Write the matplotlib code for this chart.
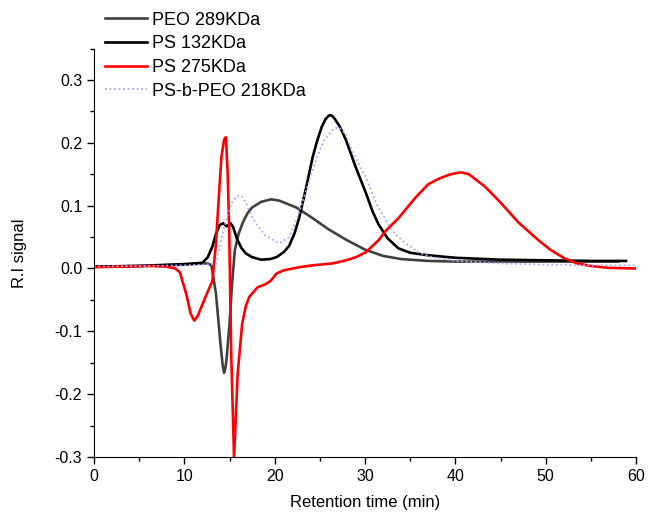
import matplotlib
matplotlib.use('Agg')
import matplotlib.pyplot as plt
from matplotlib.ticker import MultipleLocator

plt.rcParams['font.family'] = ['Liberation Sans', 'DejaVu Sans']

# PEO 289KDa
peo_t = [0, 5, 10, 12, 12.6, 13.0, 13.5, 14.0, 14.25, 14.4, 14.55, 14.7, 15.0, 15.3, 15.6, 16.0, 16.5,
         17.0, 17.5, 18.5, 19.6, 20.5, 22.4, 24, 26, 28, 30, 32, 34, 37, 40, 45, 50, 55, 58]
peo_y = [0.003, 0.004, 0.006, 0.008, 0.008, 0.005, -0.04, -0.12, -0.155, -0.166, -0.158, -0.14,
         -0.088, -0.02, 0.03, 0.055, 0.074, 0.088, 0.097, 0.106, 0.110, 0.108, 0.097, 0.082, 0.062,
         0.045, 0.030, 0.020, 0.015, 0.012, 0.011, 0.011, 0.011, 0.011, 0.011]

# PS 132KDa
ps132_t = [0, 5, 10, 12, 12.6, 13.1, 13.5, 13.9, 14.3, 14.7, 15.1, 15.4, 15.8, 16.3, 16.8, 17.5, 18.5,
           19.5, 20.2, 21, 21.6, 22.2, 22.7, 23.5, 24.2, 24.7, 25.2, 25.6, 25.9, 26.1, 26.35, 26.6,
           27.2, 27.9, 29, 30.1, 30.8, 31.5, 32.5, 33.7, 35, 37, 40, 45, 50, 55, 58.9]
ps132_y = [0.003, 0.004, 0.007, 0.009, 0.018, 0.035, 0.055, 0.069, 0.072, 0.067, 0.072, 0.066, 0.048,
           0.033, 0.024, 0.018, 0.014, 0.015, 0.018, 0.026, 0.036, 0.056, 0.08, 0.13, 0.177, 0.203,
           0.225, 0.237, 0.242, 0.244, 0.243, 0.239, 0.226, 0.204, 0.16, 0.12, 0.092, 0.07, 0.048,
           0.032, 0.025, 0.021, 0.017, 0.014, 0.013, 0.012, 0.012]

# PS 275KDa
ps275_t = [0, 3, 6, 8, 9, 9.5, 10.2, 10.7, 11.1, 11.5, 12, 12.5, 13.1, 13.5, 13.8, 14.1, 14.4, 14.6,
           14.8, 14.95, 15.2, 15.5, 15.75, 15.9, 16.4, 16.8, 17.2, 18.1, 19.0, 19.6, 20.2, 21, 22.7,
           24.2, 26.4, 27.9, 29, 30.1, 31.5, 32.3, 33.7, 35.6, 37, 38.2, 39.5, 40.6, 41.5, 43.3, 45,
           47, 49.2, 50.5, 52.1, 53.5, 55, 57, 60]
ps275_y = [0.002, 0.003, 0.004, 0.003, 0.0, -0.006, -0.04, -0.072, -0.083, -0.075, -0.057, -0.04,
           -0.02, 0.04, 0.11, 0.177, 0.205, 0.209, 0.15, 0.07, -0.142, -0.3, -0.22, -0.168, -0.088,
           -0.06, -0.045, -0.03, -0.025, -0.019, -0.008, -0.003, 0.002, 0.005, 0.008, 0.013, 0.018,
           0.026, 0.045, 0.06, 0.08, 0.113, 0.134, 0.143, 0.150, 0.153, 0.150, 0.130, 0.105, 0.073,
           0.045, 0.03, 0.016, 0.008, 0.004, 0.001, 0.0]

# PS-b-PEO 218KDa
psb_t = [0, 10, 13.5, 13.9, 14.3, 14.8, 15.3, 15.8, 16.3, 16.8, 17.4, 18, 19, 20.5, 21.6, 22.5, 23.5,
         24.5, 25.5, 26.5, 27.1, 27.8, 28.8, 30.1, 31.2, 32.3, 33.3, 34.5, 36, 37.4, 40, 45, 50, 55, 60]
psb_y = [0.003, 0.005, 0.007, 0.03, 0.06, 0.085, 0.105, 0.115, 0.116, 0.105, 0.085, 0.07, 0.052,
         0.04, 0.05, 0.08, 0.125, 0.17, 0.205, 0.222, 0.225, 0.215, 0.18, 0.145, 0.105, 0.077, 0.055,
         0.04, 0.025, 0.018, 0.012, 0.008, 0.006, 0.005, 0.005]

fig = plt.figure(figsize=(6.48, 5.15), dpi=100)
ax = fig.add_axes([0.1451, 0.1126, 0.8364, 0.7932])

ax.plot(peo_t, peo_y, color='#404040', lw=1.9, label='PEO 289KDa')
ax.plot(ps132_t, ps132_y, color='black', lw=1.9, label='PS 132KDa')
ax.plot(ps275_t, ps275_y, color='#ff0000', lw=1.9, label='PS 275KDa')
ax.plot(psb_t, psb_y, color='#a8a8ff', lw=1.3, linestyle=(0, (1, 1.5)), label='PS-b-PEO 218KDa')

ax.set_xlim(0, 60)
ax.set_ylim(-0.3, 0.35)
ax.xaxis.set_major_locator(MultipleLocator(10))
ax.xaxis.set_minor_locator(MultipleLocator(5))
ax.yaxis.set_minor_locator(MultipleLocator(0.05))
ax.set_yticks([-0.3, -0.2, -0.1, 0.0, 0.1, 0.2, 0.3])
ax.set_yticklabels(['-0.3', '-0.2', '-0.1', '0.0', '0.1', '0.2', '0.3'])
ax.tick_params(which='major', direction='out', length=5, width=1, labelsize=11.5)
ax.tick_params(which='minor', direction='out', length=3, width=1)
ax.spines['top'].set_visible(False)
ax.spines['right'].set_visible(False)

ax.set_xlabel('Retention time (min)', fontsize=12, labelpad=8)
ax.set_ylabel('R.I signal', fontsize=12, labelpad=20)

fig.legend(loc='upper left', bbox_to_anchor=(0.144, 1.0), frameon=False, fontsize=13,
           handlelength=2.3, handletextpad=0.3, labelspacing=0.37, borderaxespad=0.25)

fig.savefig('out.png', dpi=100)
